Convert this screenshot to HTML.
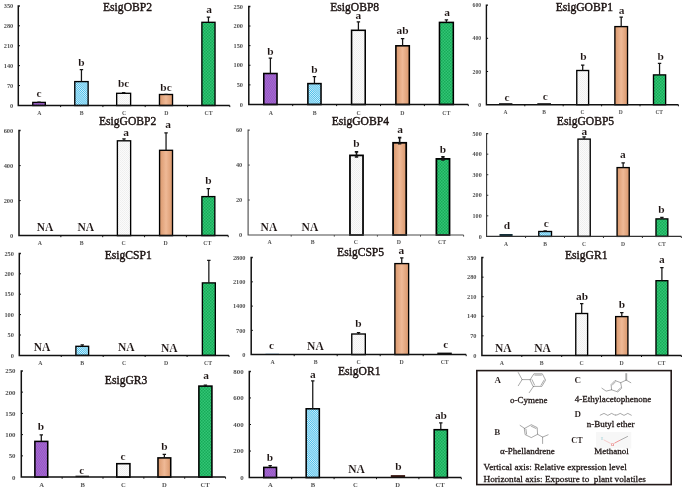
<!DOCTYPE html>
<html lang="en"><head><meta charset="utf-8"><title>Relative expression of Esig genes after exposure to plant volatiles</title>
<style>
html,body{margin:0;padding:0;background:#fff}
body{width:685px;height:490px;overflow:hidden}
svg{display:block;will-change:transform}
text{font-family:"Liberation Serif",serif}
.tt{font-size:11.6px;fill:#1d1413;stroke:#1d1413;stroke-width:.4px;text-anchor:middle}
.lt{font-size:11.4px;font-weight:bold;fill:#1d1413;stroke:#fff;stroke-width:.1px;text-anchor:middle}
.na{font-size:11.5px;font-weight:bold;fill:#1d1413;stroke:#fff;stroke-width:.1px;text-anchor:middle}
.tk{font-weight:bold;fill:#505050;text-anchor:end}
.ct{font-weight:bold;fill:#555;text-anchor:middle}
.lb{font-size:9px;font-weight:bold;fill:#1d1413;stroke:#fff;stroke-width:.1px}
.ln{font-size:9px;fill:#1d1413;stroke:#1d1413;stroke-width:.28px}
.mol{fill:none;stroke:#4a4a4a;stroke-width:.48;stroke-linecap:round;stroke-linejoin:round}
</style></head><body>
<svg width="685" height="490" viewBox="0 0 685 490">
<defs>
<pattern id="pA" width="2" height="3" patternUnits="userSpaceOnUse"><rect width="2" height="3" fill="#9757c6"/><rect x="0" y="0" width="1" height="1.5" fill="#a46acf"/><rect x="1" y="1.5" width="1" height="1.5" fill="#a46acf"/></pattern>
<pattern id="pB" width="1.5" height="1.5" patternUnits="userSpaceOnUse" patternTransform="rotate(45)"><rect width="1.5" height="1.5" fill="#45bdea"/><rect width="1.5" height=".75" fill="#d4f0fb"/></pattern>
<pattern id="pC" width="2" height="2" patternUnits="userSpaceOnUse"><rect width="2" height="2" fill="#fbfbfb"/><rect width="1" height="1" fill="#efefef"/><rect x="1" y="1" width="1" height="1" fill="#f1f1f1"/></pattern>
<linearGradient id="pD" x1="0" x2="1" y1="0" y2="0"><stop offset="0" stop-color="#d9976c"/><stop offset=".5" stop-color="#efb996"/><stop offset="1" stop-color="#d9976c"/></linearGradient>
<pattern id="pT" width="3" height="3" patternUnits="userSpaceOnUse"><rect width="3" height="3" fill="#33c575"/><rect x="0" y="0" width="1.5" height="1.5" fill="#17ab59"/><rect x="1.5" y="1.5" width="1.5" height="1.5" fill="#17ab59"/></pattern>
</defs>
<rect width="685" height="490" fill="#ffffff"/>
<g>
<rect x="32.77" y="102.4" width="12.55" height="3.1" fill="url(#pA)" stroke="#000" stroke-width="1.35"/>
<rect x="74.78" y="81.6" width="13.35" height="23.9" fill="url(#pB)" stroke="#000" stroke-width="1.35"/>
<rect x="116.67" y="93.3" width="13.95" height="12.2" fill="url(#pC)" stroke="#000" stroke-width="1.35"/>
<rect x="159.47" y="94.5" width="13.05" height="11" fill="url(#pD)" stroke="#000" stroke-width="1.35"/>
<rect x="201.88" y="22.3" width="13.15" height="83.2" fill="url(#pT)" stroke="#000" stroke-width="1.35"/>
<path d="M39.05 102.3V102M37.35 102H40.75" stroke="#151515" stroke-width="1.25" fill="none"/>
<path d="M81.45 81.5V69.5M79.75 69.5H83.15" stroke="#151515" stroke-width="1.25" fill="none"/>
<path d="M123.65 93.2V92.6M121.95 92.6H125.35" stroke="#151515" stroke-width="1.25" fill="none"/>
<path d="M166 94.4V94.3M164.3 94.3H167.7" stroke="#151515" stroke-width="1.25" fill="none"/>
<path d="M208.45 22.2V17.1M206.75 17.1H210.15" stroke="#151515" stroke-width="1.25" fill="none"/>
<path d="M19.9 5.9H18.3V105.5H229.8" stroke="#111111" stroke-width="1.5" fill="none" stroke-linejoin="miter"/>
<path d="M18.3 85.58H20M18.3 65.66H20M18.3 45.74H20M18.3 25.82H20M60.6 105.5V107.1M102.9 105.5V107.1M145.2 105.5V107.1M187.5 105.5V107.1M229.8 105.5V107.1" stroke="#111111" stroke-width="1" fill="none"/>
<text class="tk" x="13.2" y="107.71" font-size="6.32">0</text>
<text class="tk" x="13.2" y="87.79" font-size="6.32">70</text>
<text class="tk" x="13.2" y="67.87" font-size="6.32">140</text>
<text class="tk" x="13.2" y="47.95" font-size="6.32">210</text>
<text class="tk" x="13.2" y="28.03" font-size="6.32">280</text>
<text class="tk" x="13.2" y="8.11" font-size="6.32">350</text>
<text class="ct" x="39.45" y="114.91" font-size="5.8">A</text>
<text class="ct" x="81.75" y="114.91" font-size="5.8">B</text>
<text class="ct" x="124.05" y="114.91" font-size="5.8">C</text>
<text class="ct" x="166.35" y="114.91" font-size="5.8">D</text>
<text class="ct" x="208.65" y="114.91" font-size="5.8">CT</text>
<text class="tt" x="127.5" y="10.9">EsigOBP2</text>
<text class="lt" x="39" y="96.9">c</text>
<text class="lt" x="81.4" y="66.2">b</text>
<text class="lt" x="123.7" y="86.5">bc</text>
<text class="lt" x="166" y="90.5">bc</text>
<text class="lt" x="209" y="13.4">a</text>
</g>
<g>
<rect x="263.77" y="73.5" width="13.25" height="31" fill="url(#pA)" stroke="#000" stroke-width="1.55"/>
<rect x="307.87" y="83.6" width="13.15" height="20.9" fill="url(#pB)" stroke="#000" stroke-width="1.55"/>
<rect x="351.57" y="30.3" width="13.65" height="74.2" fill="url(#pC)" stroke="#000" stroke-width="1.55"/>
<rect x="395.87" y="45.8" width="13.45" height="58.7" fill="url(#pD)" stroke="#000" stroke-width="1.55"/>
<rect x="439.47" y="22.4" width="13.85" height="82.1" fill="url(#pT)" stroke="#000" stroke-width="1.55"/>
<path d="M270.4 73.4V58.2M268.7 58.2H272.1" stroke="#151515" stroke-width="1.25" fill="none"/>
<path d="M314.45 83.5V76.6M312.75 76.6H316.15" stroke="#151515" stroke-width="1.25" fill="none"/>
<path d="M358.4 30.2V21.8M356.7 21.8H360.1" stroke="#151515" stroke-width="1.25" fill="none"/>
<path d="M402.6 45.7V38.6M400.9 38.6H404.3" stroke="#151515" stroke-width="1.25" fill="none"/>
<path d="M446.4 22.3V19.8M444.7 19.8H448.1" stroke="#151515" stroke-width="1.25" fill="none"/>
<path d="M250.4 6.4H248.8V104.5H468.3" stroke="#111111" stroke-width="1.5" fill="none" stroke-linejoin="miter"/>
<path d="M248.8 84.88H250.5M248.8 65.26H250.5M248.8 45.64H250.5M248.8 26.02H250.5M292.7 104.5V106.1M336.6 104.5V106.1M380.5 104.5V106.1M424.4 104.5V106.1M468.3 104.5V106.1" stroke="#111111" stroke-width="1" fill="none"/>
<text class="tk" x="243" y="106.71" font-size="6.32">0</text>
<text class="tk" x="243" y="87.09" font-size="6.32">50</text>
<text class="tk" x="243" y="67.47" font-size="6.32">100</text>
<text class="tk" x="243" y="47.85" font-size="6.32">150</text>
<text class="tk" x="243" y="28.23" font-size="6.32">200</text>
<text class="tk" x="243" y="8.61" font-size="6.32">250</text>
<text class="ct" x="270.75" y="114.51" font-size="5.8">A</text>
<text class="ct" x="314.65" y="114.51" font-size="5.8">B</text>
<text class="ct" x="358.55" y="114.51" font-size="5.8">C</text>
<text class="ct" x="402.45" y="114.51" font-size="5.8">D</text>
<text class="ct" x="446.35" y="114.51" font-size="5.8">CT</text>
<text class="tt" x="354.7" y="10.6">EsigOBP8</text>
<text class="lt" x="270.5" y="54.9">b</text>
<text class="lt" x="314.5" y="73.4">b</text>
<text class="lt" x="358.4" y="19.3">a</text>
<text class="lt" x="402.6" y="34.4">ab</text>
<text class="lt" x="447" y="15.9">a</text>
</g>
<g>
<rect x="499" y="103.2" width="13.4" height="1.5" fill="#111"/>
<rect x="537.3" y="103.2" width="13.7" height="1.5" fill="#111"/>
<rect x="576.77" y="70.5" width="11.85" height="34.2" fill="url(#pC)" stroke="#000" stroke-width="1.35"/>
<rect x="614.88" y="26.6" width="12.65" height="78.1" fill="url(#pD)" stroke="#000" stroke-width="1.35"/>
<rect x="653.48" y="74.9" width="12.15" height="29.8" fill="url(#pT)" stroke="#000" stroke-width="1.35"/>
<path d="M582.7 70.4V65M581 65H584.4" stroke="#151515" stroke-width="1.25" fill="none"/>
<path d="M621.2 26.5V17.1M619.5 17.1H622.9" stroke="#151515" stroke-width="1.25" fill="none"/>
<path d="M659.55 74.8V63.3M657.85 63.3H661.25" stroke="#151515" stroke-width="1.25" fill="none"/>
<path d="M488 5.1H486.4V104.7H678.4" stroke="#111111" stroke-width="1.4" fill="none" stroke-linejoin="miter"/>
<path d="M486.4 71.5H488.1M486.4 38.3H488.1M524.8 104.7V106.3M563.2 104.7V106.3M601.6 104.7V106.3M640 104.7V106.3M678.4 104.7V106.3" stroke="#111111" stroke-width="1" fill="none"/>
<text class="tk" x="481.2" y="106.72" font-size="5.78">0</text>
<text class="tk" x="481.2" y="73.52" font-size="5.78">200</text>
<text class="tk" x="481.2" y="40.32" font-size="5.78">400</text>
<text class="tk" x="481.2" y="7.12" font-size="5.78">600</text>
<text class="ct" x="505.6" y="113.91" font-size="5.5">A</text>
<text class="ct" x="544" y="113.91" font-size="5.5">B</text>
<text class="ct" x="582.4" y="113.91" font-size="5.5">C</text>
<text class="ct" x="620.8" y="113.91" font-size="5.5">D</text>
<text class="ct" x="659.2" y="113.91" font-size="5.5">CT</text>
<text class="tt" x="584.3" y="11">EsigGOBP1</text>
<text class="lt" x="507" y="100.8">c</text>
<text class="lt" x="545.3" y="100">c</text>
<text class="lt" x="583.4" y="59.6">b</text>
<text class="lt" x="621.5" y="13.8">a</text>
<text class="lt" x="660.6" y="59.6">b</text>
</g>
<g>
<rect x="117.38" y="140.8" width="13.25" height="94.8" fill="url(#pC)" stroke="#000" stroke-width="1.35"/>
<rect x="159.57" y="150.3" width="12.95" height="85.3" fill="url(#pD)" stroke="#000" stroke-width="1.35"/>
<rect x="201.88" y="196.6" width="12.95" height="39" fill="url(#pT)" stroke="#000" stroke-width="1.35"/>
<path d="M124 140.7V138.8M122.3 138.8H125.7" stroke="#151515" stroke-width="1.25" fill="none"/>
<path d="M166.05 150.2V132.9M164.35 132.9H167.75" stroke="#151515" stroke-width="1.25" fill="none"/>
<path d="M208.35 196.5V188.7M206.65 188.7H210.05" stroke="#151515" stroke-width="1.25" fill="none"/>
<path d="M20.6 130.6H19V235.6H228.25" stroke="#111111" stroke-width="1.5" fill="none" stroke-linejoin="miter"/>
<path d="M19 200.6H20.7M19 165.6H20.7M60.85 235.6V237.2M102.7 235.6V237.2M144.55 235.6V237.2M186.4 235.6V237.2M228.25 235.6V237.2" stroke="#111111" stroke-width="1" fill="none"/>
<text class="tk" x="13.3" y="237.85" font-size="6.43">0</text>
<text class="tk" x="13.3" y="202.85" font-size="6.43">200</text>
<text class="tk" x="13.3" y="167.85" font-size="6.43">400</text>
<text class="tk" x="13.3" y="132.85" font-size="6.43">600</text>
<text class="ct" x="39.92" y="244.91" font-size="5.8">A</text>
<text class="ct" x="81.78" y="244.91" font-size="5.8">B</text>
<text class="ct" x="123.62" y="244.91" font-size="5.8">C</text>
<text class="ct" x="165.47" y="244.91" font-size="5.8">D</text>
<text class="ct" x="207.33" y="244.91" font-size="5.8">CT</text>
<text class="tt" x="127.6" y="124.6">EsigGOBP2</text>
<text class="lt" x="126" y="135.6">a</text>
<text class="lt" x="168" y="128.4">a</text>
<text class="lt" x="208.5" y="183.9">b</text>
<text class="na" x="45.1" y="230.5">NA</text>
<text class="na" x="85.8" y="230.5">NA</text>
</g>
<g>
<rect x="349.97" y="155.4" width="13.05" height="79.6" fill="url(#pC)" stroke="#000" stroke-width="1.75"/>
<rect x="393.07" y="142.8" width="13.15" height="92.2" fill="url(#pD)" stroke="#000" stroke-width="1.75"/>
<rect x="436.38" y="158.9" width="13.15" height="76.1" fill="url(#pT)" stroke="#000" stroke-width="1.75"/>
<path d="M356.5 157.4V151.9M354.8 151.9H358.2M354.8 157H358.2" stroke="#151515" stroke-width="1.6" fill="none"/>
<path d="M399.65 144V137.6M397.95 137.6H401.35M397.95 143.6H401.35" stroke="#151515" stroke-width="1.6" fill="none"/>
<path d="M442.95 160.3V156.9M441.25 156.9H444.65M441.25 159.9H444.65" stroke="#151515" stroke-width="1.6" fill="none"/>
<path d="M249.7 130.1H248.1V235H463.6" stroke="#4a4a4a" stroke-width="1.1" fill="none" stroke-linejoin="miter"/>
<path d="M248.1 200.03H249.8M248.1 165.07H249.8M291.2 235V236.6M334.3 235V236.6M377.4 235V236.6M420.5 235V236.6M463.6 235V236.6" stroke="#4a4a4a" stroke-width="1" fill="none"/>
<text class="tk" x="242.2" y="237.21" font-size="6.32">0</text>
<text class="tk" x="242.2" y="202.25" font-size="6.32">20</text>
<text class="tk" x="242.2" y="167.28" font-size="6.32">40</text>
<text class="tk" x="242.2" y="132.31" font-size="6.32">60</text>
<text class="ct" x="269.65" y="244.41" font-size="5.8">A</text>
<text class="ct" x="312.75" y="244.41" font-size="5.8">B</text>
<text class="ct" x="355.85" y="244.41" font-size="5.8">C</text>
<text class="ct" x="398.95" y="244.41" font-size="5.8">D</text>
<text class="ct" x="442.05" y="244.41" font-size="5.8">CT</text>
<text class="tt" x="360.3" y="124.6">EsigGOBP4</text>
<text class="lt" x="356.4" y="147.4">b</text>
<text class="lt" x="400" y="133.1">a</text>
<text class="lt" x="442.9" y="152.9">b</text>
<text class="na" x="268.9" y="230.5">NA</text>
<text class="na" x="309.9" y="230.5">NA</text>
</g>
<g>
<rect x="499.5" y="234" width="13.1" height="2.4" fill="#16303a"/>
<rect x="538.77" y="231.5" width="12.75" height="4.9" fill="url(#pB)" stroke="#000" stroke-width="1.35"/>
<rect x="577.98" y="139.1" width="12.25" height="97.3" fill="url(#pC)" stroke="#000" stroke-width="1.35"/>
<rect x="617.08" y="167.6" width="12.15" height="68.8" fill="url(#pD)" stroke="#000" stroke-width="1.35"/>
<rect x="655.98" y="218.9" width="11.85" height="17.5" fill="url(#pT)" stroke="#000" stroke-width="1.35"/>
<path d="M545.15 231.4V230.9M543.45 230.9H546.85" stroke="#151515" stroke-width="1.25" fill="none"/>
<path d="M584.1 139V136.8M582.4 136.8H585.8" stroke="#151515" stroke-width="1.25" fill="none"/>
<path d="M623.15 167.5V162.8M621.45 162.8H624.85" stroke="#151515" stroke-width="1.25" fill="none"/>
<path d="M661.9 218.8V217.4M660.2 217.4H663.6" stroke="#151515" stroke-width="1.25" fill="none"/>
<path d="M488.2 133.6H486.6V236.4H681.35" stroke="#333333" stroke-width="1.1" fill="none" stroke-linejoin="miter"/>
<path d="M486.6 215.84H488.3M486.6 195.28H488.3M486.6 174.72H488.3M486.6 154.16H488.3M525.55 236.4V238M564.5 236.4V238M603.45 236.4V238M642.4 236.4V238M681.35 236.4V238" stroke="#333333" stroke-width="1" fill="none"/>
<text class="tk" x="481.7" y="238.53" font-size="6.1">0</text>
<text class="tk" x="481.7" y="217.97" font-size="6.1">100</text>
<text class="tk" x="481.7" y="197.41" font-size="6.1">200</text>
<text class="tk" x="481.7" y="176.85" font-size="6.1">300</text>
<text class="tk" x="481.7" y="156.29" font-size="6.1">400</text>
<text class="tk" x="481.7" y="135.74" font-size="6.1">500</text>
<text class="ct" x="506.08" y="245.95" font-size="5.6">A</text>
<text class="ct" x="545.02" y="245.95" font-size="5.6">B</text>
<text class="ct" x="583.98" y="245.95" font-size="5.6">C</text>
<text class="ct" x="622.93" y="245.95" font-size="5.6">D</text>
<text class="ct" x="661.88" y="245.95" font-size="5.6">CT</text>
<text class="tt" x="585.5" y="124.5">EsigGOBP5</text>
<text class="lt" x="507" y="229.2">d</text>
<text class="lt" x="546.2" y="227">c</text>
<text class="lt" x="584.3" y="134.8">a</text>
<text class="lt" x="622.9" y="157.8">a</text>
<text class="lt" x="661.5" y="212.9">b</text>
</g>
<g>
<rect x="75.88" y="346.3" width="12.75" height="9.1" fill="url(#pB)" stroke="#000" stroke-width="1.35"/>
<rect x="202.38" y="282.9" width="12.95" height="72.5" fill="url(#pT)" stroke="#000" stroke-width="1.35"/>
<path d="M82.25 346.2V344.8M80.55 344.8H83.95" stroke="#151515" stroke-width="1.25" fill="none"/>
<path d="M208.85 282.8V260.4M207.15 260.4H210.55" stroke="#151515" stroke-width="1.25" fill="none"/>
<path d="M20.9 253.4H19.3V355.4H229.05" stroke="#111111" stroke-width="1.5" fill="none" stroke-linejoin="miter"/>
<path d="M19.3 335H21M19.3 314.6H21M19.3 294.2H21M19.3 273.8H21M61.25 355.4V357M103.2 355.4V357M145.15 355.4V357M187.1 355.4V357M229.05 355.4V357" stroke="#111111" stroke-width="1" fill="none"/>
<text class="tk" x="13.9" y="357.61" font-size="6.32">0</text>
<text class="tk" x="13.9" y="337.21" font-size="6.32">50</text>
<text class="tk" x="13.9" y="316.81" font-size="6.32">100</text>
<text class="tk" x="13.9" y="296.41" font-size="6.32">150</text>
<text class="tk" x="13.9" y="276.01" font-size="6.32">200</text>
<text class="tk" x="13.9" y="255.61" font-size="6.32">250</text>
<text class="ct" x="40.28" y="364.81" font-size="5.8">A</text>
<text class="ct" x="82.23" y="364.81" font-size="5.8">B</text>
<text class="ct" x="124.17" y="364.81" font-size="5.8">C</text>
<text class="ct" x="166.13" y="364.81" font-size="5.8">D</text>
<text class="ct" x="208.08" y="364.81" font-size="5.8">CT</text>
<text class="tt" x="128.2" y="258.5">EsigCSP1</text>
<text class="na" x="42" y="351.2">NA</text>
<text class="na" x="126.2" y="351.2">NA</text>
<text class="na" x="169.3" y="352.4">NA</text>
</g>
<g>
<rect x="265.5" y="353.6" width="13.5" height="1" fill="#7fa8c8"/>
<rect x="351.77" y="334" width="13.55" height="20.6" fill="url(#pC)" stroke="#000" stroke-width="1.35"/>
<rect x="394.88" y="263.6" width="13.75" height="91" fill="url(#pD)" stroke="#000" stroke-width="1.35"/>
<rect x="437.3" y="352.6" width="14.5" height="2" fill="#111"/>
<path d="M358.55 333.9V332.5M356.85 332.5H360.25" stroke="#151515" stroke-width="1.25" fill="none"/>
<path d="M401.75 263.5V257.9M400.05 257.9H403.45" stroke="#151515" stroke-width="1.25" fill="none"/>
<path d="M252.8 257.6H251.2V354.6H466.2" stroke="#111111" stroke-width="1.5" fill="none" stroke-linejoin="miter"/>
<path d="M251.2 330.35H252.9M251.2 306.1H252.9M251.2 281.85H252.9M294.2 354.6V356.2M337.2 354.6V356.2M380.2 354.6V356.2M423.2 354.6V356.2M466.2 354.6V356.2" stroke="#111111" stroke-width="1" fill="none"/>
<text class="tk" x="245.5" y="356.81" font-size="6.32">0</text>
<text class="tk" x="245.5" y="332.56" font-size="6.32">700</text>
<text class="tk" x="245.5" y="308.31" font-size="6.32">1400</text>
<text class="tk" x="245.5" y="284.06" font-size="6.32">2100</text>
<text class="tk" x="245.5" y="259.81" font-size="6.32">2800</text>
<text class="ct" x="272.7" y="363.61" font-size="5.8">A</text>
<text class="ct" x="315.7" y="363.61" font-size="5.8">B</text>
<text class="ct" x="358.7" y="363.61" font-size="5.8">C</text>
<text class="ct" x="401.7" y="363.61" font-size="5.8">D</text>
<text class="ct" x="444.7" y="363.61" font-size="5.8">CT</text>
<text class="tt" x="360.6" y="256.3">EsigCSP5</text>
<text class="lt" x="271.6" y="348.7">c</text>
<text class="lt" x="358.4" y="326.5">b</text>
<text class="lt" x="401.3" y="253.8">a</text>
<text class="lt" x="445.7" y="347.8">c</text>
<text class="na" x="315.4" y="350.4">NA</text>
</g>
<g>
<rect x="575.77" y="313.5" width="11.85" height="41.9" fill="url(#pC)" stroke="#000" stroke-width="1.35"/>
<rect x="615.67" y="316.6" width="12.25" height="38.8" fill="url(#pD)" stroke="#000" stroke-width="1.35"/>
<rect x="655.98" y="280.7" width="11.85" height="74.7" fill="url(#pT)" stroke="#000" stroke-width="1.35"/>
<path d="M581.7 313.4V303.7M580 303.7H583.4" stroke="#151515" stroke-width="1.25" fill="none"/>
<path d="M621.8 316.5V312.6M620.1 312.6H623.5" stroke="#151515" stroke-width="1.25" fill="none"/>
<path d="M661.9 280.6V267.5M660.2 267.5H663.6" stroke="#151515" stroke-width="1.25" fill="none"/>
<path d="M483.5 257.6H481.9V355.4H681.4" stroke="#111111" stroke-width="1.5" fill="none" stroke-linejoin="miter"/>
<path d="M481.9 335.84H483.6M481.9 316.28H483.6M481.9 296.72H483.6M481.9 277.16H483.6M521.8 355.4V357M561.7 355.4V357M601.6 355.4V357M641.5 355.4V357M681.4 355.4V357" stroke="#111111" stroke-width="1" fill="none"/>
<text class="tk" x="476.5" y="357.61" font-size="6.32">0</text>
<text class="tk" x="476.5" y="338.05" font-size="6.32">70</text>
<text class="tk" x="476.5" y="318.49" font-size="6.32">140</text>
<text class="tk" x="476.5" y="298.93" font-size="6.32">210</text>
<text class="tk" x="476.5" y="279.37" font-size="6.32">280</text>
<text class="tk" x="476.5" y="259.81" font-size="6.32">350</text>
<text class="ct" x="501.85" y="364.81" font-size="5.8">A</text>
<text class="ct" x="541.75" y="364.81" font-size="5.8">B</text>
<text class="ct" x="581.65" y="364.81" font-size="5.8">C</text>
<text class="ct" x="621.55" y="364.81" font-size="5.8">D</text>
<text class="ct" x="661.45" y="364.81" font-size="5.8">CT</text>
<text class="tt" x="586.2" y="259.3">EsigGR1</text>
<text class="lt" x="582.1" y="299.6">ab</text>
<text class="lt" x="622" y="307.6">b</text>
<text class="lt" x="661.8" y="262.7">a</text>
<text class="na" x="503.3" y="352.4">NA</text>
<text class="na" x="542.5" y="352.4">NA</text>
</g>
<g>
<rect x="34.88" y="441.4" width="12.85" height="35.7" fill="url(#pA)" stroke="#000" stroke-width="1.55"/>
<rect x="75.5" y="475.6" width="13.5" height="1.5" fill="#3a3a3a"/>
<rect x="116.78" y="463.7" width="13.15" height="13.4" fill="url(#pC)" stroke="#000" stroke-width="1.55"/>
<rect x="157.97" y="457.9" width="12.75" height="19.2" fill="url(#pD)" stroke="#000" stroke-width="1.55"/>
<rect x="198.88" y="386.1" width="13.05" height="91" fill="url(#pT)" stroke="#000" stroke-width="1.55"/>
<path d="M41.3 441.3V434.9M39.6 434.9H43" stroke="#151515" stroke-width="1.25" fill="none"/>
<path d="M164.35 457.8V454.4M162.65 454.4H166.05" stroke="#151515" stroke-width="1.25" fill="none"/>
<path d="M205.4 386V385.1M203.7 385.1H207.1" stroke="#151515" stroke-width="1.25" fill="none"/>
<path d="M22.9 370.9H21.3V477.1H225.55" stroke="#111111" stroke-width="1.5" fill="none" stroke-linejoin="miter"/>
<path d="M21.3 455.86H23M21.3 434.62H23M21.3 413.38H23M21.3 392.14H23M62.15 477.1V478.7M103 477.1V478.7M143.85 477.1V478.7M184.7 477.1V478.7M225.55 477.1V478.7" stroke="#111111" stroke-width="1" fill="none"/>
<text class="tk" x="15.5" y="479.5" font-size="6.87">0</text>
<text class="tk" x="15.5" y="458.26" font-size="6.87">50</text>
<text class="tk" x="15.5" y="437.02" font-size="6.87">100</text>
<text class="tk" x="15.5" y="415.78" font-size="6.87">150</text>
<text class="tk" x="15.5" y="394.54" font-size="6.87">200</text>
<text class="tk" x="15.5" y="373.3" font-size="6.87">250</text>
<text class="ct" x="41.73" y="486.88" font-size="6.6">A</text>
<text class="ct" x="82.58" y="486.88" font-size="6.6">B</text>
<text class="ct" x="123.42" y="486.88" font-size="6.6">C</text>
<text class="ct" x="164.28" y="486.88" font-size="6.6">D</text>
<text class="ct" x="205.13" y="486.88" font-size="6.6">CT</text>
<text class="tt" x="126.1" y="383.5">EsigGR3</text>
<text class="lt" x="40.8" y="430.1">b</text>
<text class="lt" x="81.9" y="473.7">c</text>
<text class="lt" x="123.1" y="460">c</text>
<text class="lt" x="164.5" y="450.2">b</text>
<text class="lt" x="206.2" y="379.3">a</text>
</g>
<g>
<rect x="263.77" y="467.4" width="12.75" height="10.2" fill="url(#pA)" stroke="#000" stroke-width="1.55"/>
<rect x="306.17" y="408.8" width="13.15" height="68.8" fill="url(#pB)" stroke="#000" stroke-width="1.55"/>
<rect x="390.8" y="475.1" width="14.3" height="2.5" fill="#3a1812"/>
<rect x="434.17" y="429.7" width="13.25" height="47.9" fill="url(#pT)" stroke="#000" stroke-width="1.55"/>
<path d="M270.15 467.3V465.6M268.45 465.6H271.85" stroke="#151515" stroke-width="1.25" fill="none"/>
<path d="M312.75 408.7V380.8M311.05 380.8H314.45" stroke="#151515" stroke-width="1.25" fill="none"/>
<path d="M440.8 429.6V422.8M439.1 422.8H442.5" stroke="#151515" stroke-width="1.25" fill="none"/>
<path d="M250.9 371.4H249.3V477.6H461.3" stroke="#111111" stroke-width="1.5" fill="none" stroke-linejoin="miter"/>
<path d="M249.3 451.05H251M249.3 424.5H251M249.3 397.95H251M291.7 477.6V479.2M334.1 477.6V479.2M376.5 477.6V479.2M418.9 477.6V479.2M461.3 477.6V479.2" stroke="#111111" stroke-width="1" fill="none"/>
<text class="tk" x="243.6" y="480" font-size="6.87">0</text>
<text class="tk" x="243.6" y="453.45" font-size="6.87">200</text>
<text class="tk" x="243.6" y="426.9" font-size="6.87">400</text>
<text class="tk" x="243.6" y="400.35" font-size="6.87">600</text>
<text class="tk" x="243.6" y="373.8" font-size="6.87">800</text>
<text class="ct" x="270.5" y="486.88" font-size="6.6">A</text>
<text class="ct" x="312.9" y="486.88" font-size="6.6">B</text>
<text class="ct" x="355.3" y="486.88" font-size="6.6">C</text>
<text class="ct" x="397.7" y="486.88" font-size="6.6">D</text>
<text class="ct" x="440.1" y="486.88" font-size="6.6">CT</text>
<text class="tt" x="359.2" y="375.1">EsigOR1</text>
<text class="lt" x="270" y="460.8">b</text>
<text class="lt" x="312.8" y="377.6">a</text>
<text class="lt" x="398.4" y="470.4">b</text>
<text class="lt" x="440.9" y="418.8">ab</text>
<text class="na" x="356.5" y="472.5">NA</text>
</g>
<g>
<rect x="476.8" y="370.6" width="194.4" height="114" fill="#fff" stroke="#231a19" stroke-width="1.6"/>
<text class="lb" x="494.6" y="383.2">A</text>
<text class="lb" x="494.2" y="434.8">B</text>
<text class="lb" x="574.4" y="382.8">C</text>
<text class="lb" x="574.4" y="417.1">D</text>
<text class="lb" x="571.2" y="442.7" style="font-size:8.3px">CT</text>
<text class="ln" x="509.9" y="402.8">o-Cymene</text>
<text class="ln" x="500" y="453.6">α-Phellandrene</text>
<text class="ln" x="574.7" y="402.1">4-Ethylacetophenone</text>
<text class="ln" x="586.8" y="426.8">n-Butyl ether</text>
<text class="ln" x="594.3" y="453.6">Methanol</text>
<text class="ln" x="483.5" y="470.4" style="font-size:9.22px;white-space:pre" xml:space="preserve">Vertical axis: Relative expression level</text>
<text class="ln" x="483.5" y="481.6" style="font-size:9.22px;white-space:pre" xml:space="preserve">Horizontal axis: Exposure to  plant volatiles</text>
<path class="mol" d="M530.2 379.6L533.9 373.8H542.3L545.6 380.1L541.8 386.4H533.5ZM518.3 372.6L522.1 379.6L518.3 385.7M522.1 379.6H530.2M533.5 386.4L529.2 392.7M534.9 375.1H541.4M544.1 380.1L541 385.2M532 379.7L534.5 384.9"/>
<path class="mol" d="M524.6 428.4L531.3 424.7L537.2 427.6L537.6 434.3L531.3 437.6L525.5 434.8ZM524.6 428.4L520.1 425.4M537.6 434.3L542.6 437.1L548.1 434.8M542.6 437.1V443.5M531.2 426.2L536 428.5M525.9 429.2L526.6 434.1"/>
<path class="mol" d="M601.9 388.2L606.1 391.1L611.6 389.8L611.1 384.6L615 380.5L620.7 382.7L621.7 388.2L617.8 391.9L611.6 389.8M620.7 382.7L626.2 380.1L630.8 382.7M625.8 380.1V373.6M626.7 380.1V373.6M612.4 385L615.4 381.8M620.5 388L617.6 390.6"/>
<path class="mol" d="M600.2 415.2L604 413.4L607.8 415.4L611.6 413.4L614.6 414.9M617.2 414.9L620.2 413.4L624 415.4L627.8 413.4L631.3 415.2"/>
<text x="615.9" y="415.9" font-size="3.2" fill="#444" text-anchor="middle">o</text>
<rect x="596" y="432" width="35.3" height="16.5" fill="#f7f7f7"/>
<path d="M603.6 439.8L610.6 443.4" stroke="#f4b0b0" stroke-width=".6" fill="none"/>
<path d="M614.4 443.2L620.5 440" stroke="#e85050" stroke-width=".6" fill="none"/>
<path d="M620.5 440L627.9 436.3" stroke="#777" stroke-width=".6" fill="none"/>
<text x="601.9" y="440" font-size="3.4" fill="#9fd0d8" text-anchor="middle" font-family="Liberation Sans, sans-serif">H</text>
<text x="612.5" y="445.6" font-size="3.8" fill="#e02020" text-anchor="middle" font-family="Liberation Sans, sans-serif">O</text>
</g>
</svg></body></html>
